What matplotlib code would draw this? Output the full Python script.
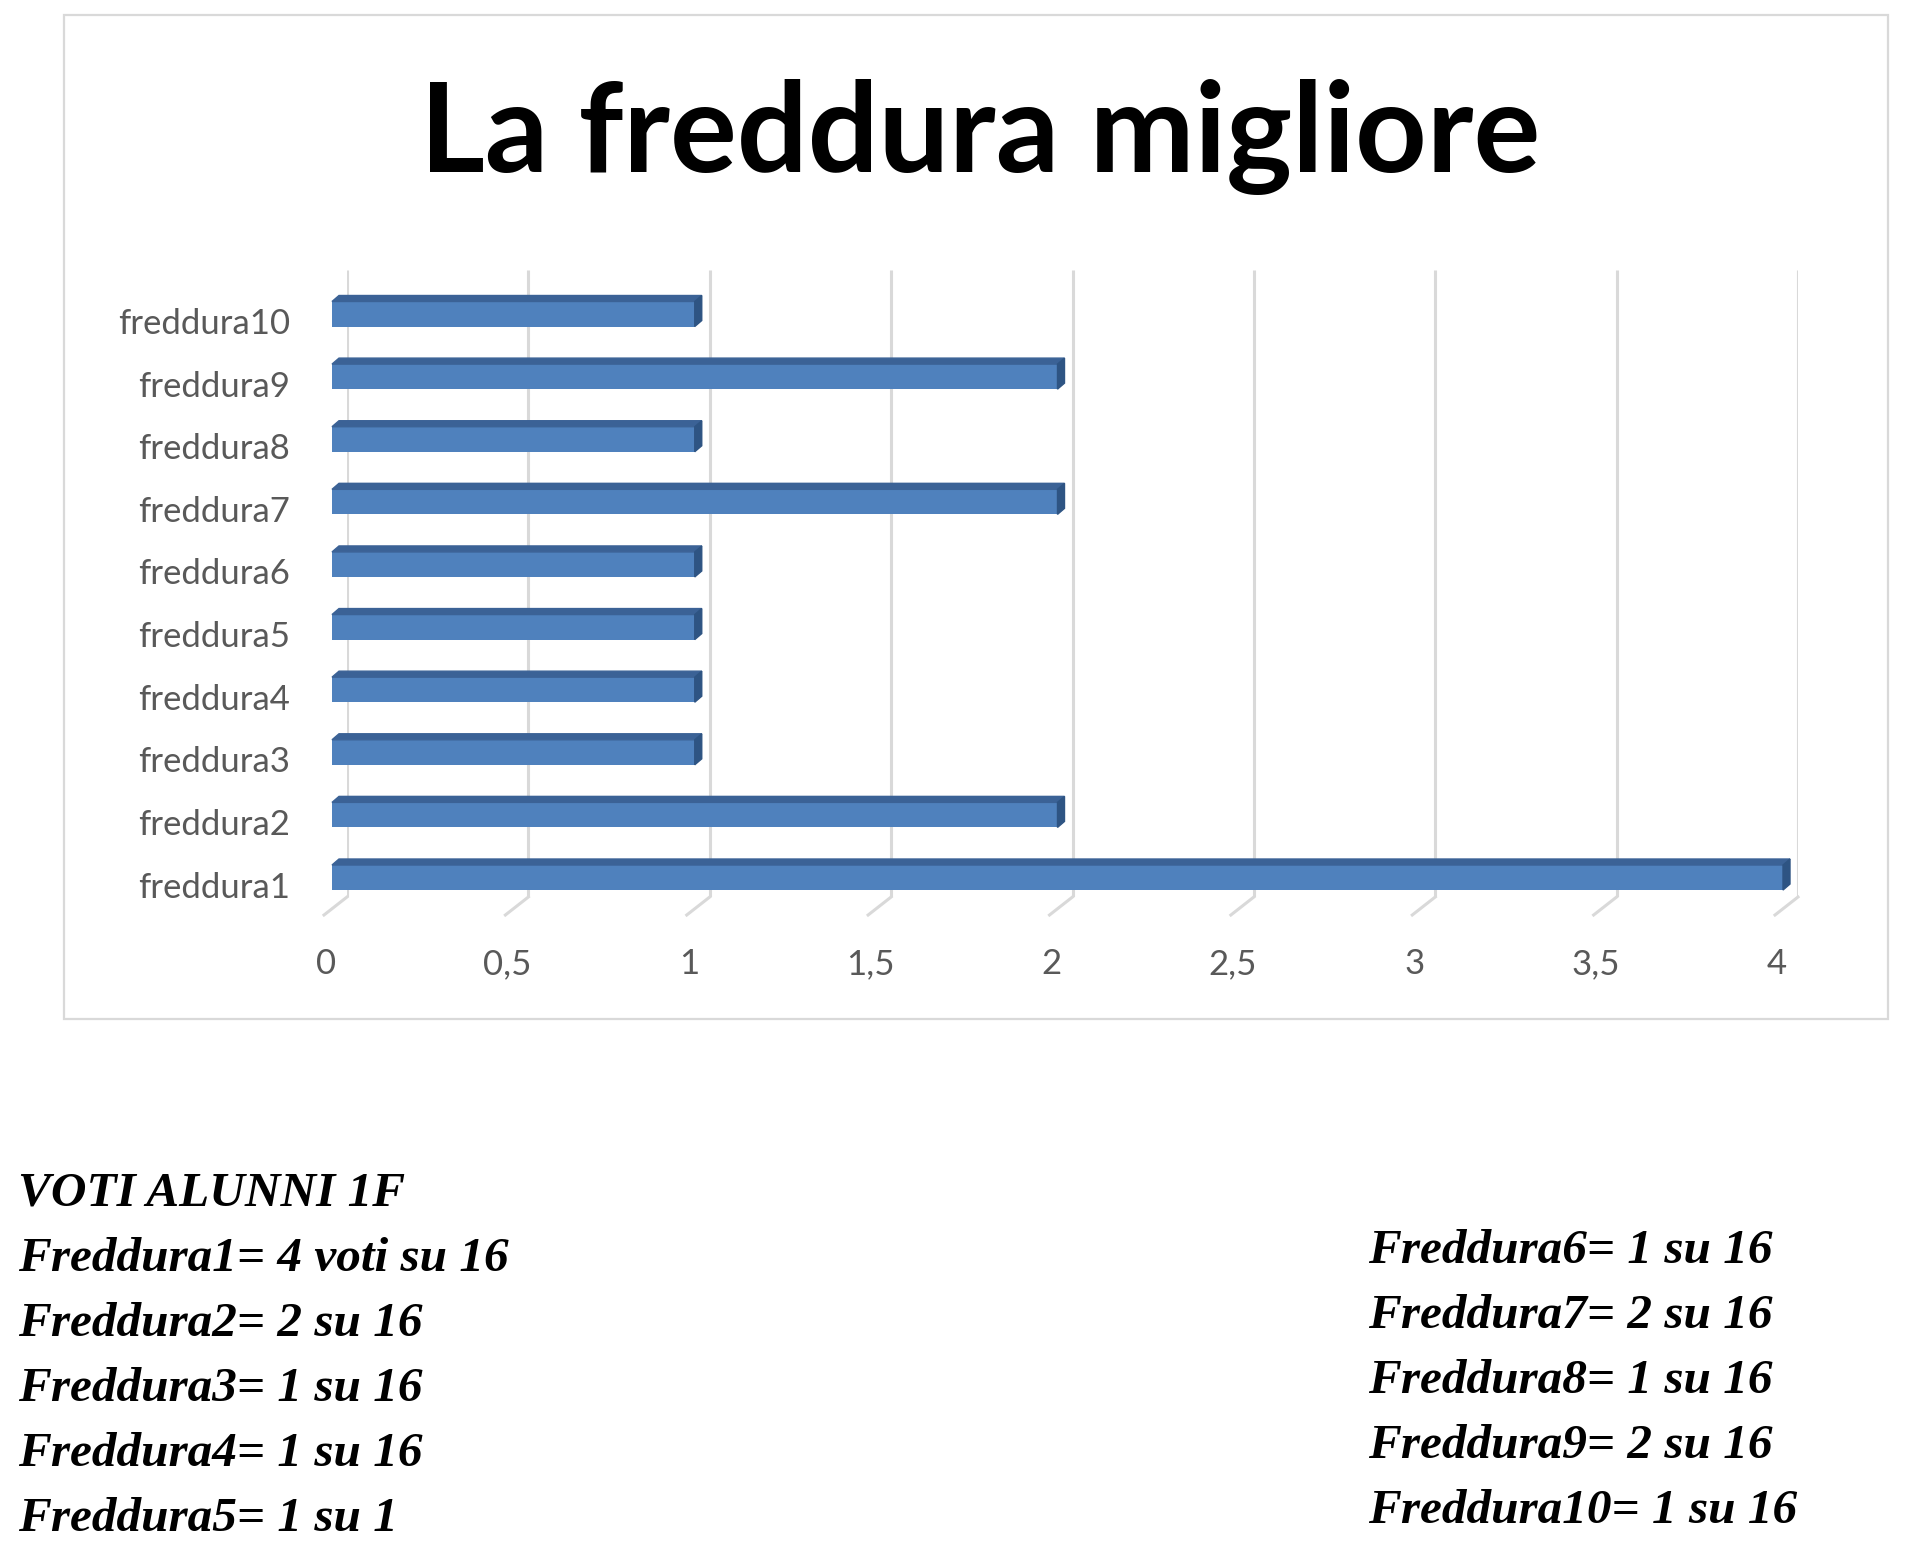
"""Horizontal 3D-style bar chart: La freddura migliore (voti alunni 1F)."""
import matplotlib
matplotlib.use("Agg")
import matplotlib.pyplot as plt
from matplotlib.patches import Polygon, Rectangle
from matplotlib.lines import Line2D
from matplotlib.transforms import ScaledTranslation, IdentityTransform

# data
categories = ["freddura1", "freddura2", "freddura3", "freddura4", "freddura5",
              "freddura6", "freddura7", "freddura8", "freddura9", "freddura10"]
votes = [4, 2, 1, 1, 1, 1, 2, 1, 2, 1]
x_ticks = [0, 0.5, 1, 1.5, 2, 2.5, 3, 3.5, 4]
x_tick_labels = ["0", "0,5", "1", "1,5", "2", "2,5", "3", "3,5", "4"]
title = "La freddura migliore"
notes_left = ["VOTI ALUNNI 1F", "Freddura1= 4 voti su 16", "Freddura2= 2 su 16",
              "Freddura3= 1 su 16", "Freddura4= 1 su 16", "Freddura5= 1 su 1"]
notes_right = ["Freddura6= 1 su 16", "Freddura7= 2 su 16", "Freddura8= 1 su 16",
               "Freddura9= 2 su 16", "Freddura10= 1 su 16"]

W, H, DPI = 1920, 1553, 100
FRONT = "#4F81BD"
TOP = "#3B6296"
SIDE = "#2E5483"
GRID = "#D9D9D9"
TEXT = "#595959"

fig = plt.figure(figsize=(W / DPI, H / DPI), dpi=DPI)

# chart frame
fig.add_artist(Rectangle((64 / W, 1 - 1019 / H), (1888 - 64) / W, (1019 - 15) / H,
                         transform=fig.transFigure, fill=False, ec=GRID, lw=1.6))

# plot area (back wall of the 3D box)
ax_left, ax_right, ax_top, ax_bot = 347, 1798, 270, 897
ax = fig.add_axes([ax_left / W, 1 - ax_bot / H, (ax_right - ax_left) / W, (ax_bot - ax_top) / H])
ax.set_xlim(0, 4)
ax.set_ylim(-0.311, 9.703)
for s in ax.spines.values():
    s.set_visible(False)
ax.patch.set_alpha(0)

ypos = list(range(len(categories)))
bar_h = 0.40
dx_front = -15  # front face shift in px
depth_x, depth_y = 7, 6

# gridlines + diagonal floor ticks
ax.vlines(x_ticks, -0.311, 9.703, color=GRID, lw=2.2, zorder=0)
for xt in x_ticks:
    bx, by = ax.transData.transform((xt, -0.311))
    fig.add_artist(Line2D([bx, bx - 23], [by, by - 18], transform=IdentityTransform(),
                          color=GRID, lw=2.2))

# front faces
shift = ax.transData + ScaledTranslation(dx_front / DPI, 0, fig.dpi_scale_trans)
ax.barh(ypos, votes, height=bar_h, left=0, color=FRONT, transform=shift,
        clip_on=False, zorder=2)

# top and side faces (depth)
for y, v in zip(ypos, votes):
    x0, yt = ax.transData.transform((0, y + bar_h / 2))
    x1, yb = ax.transData.transform((v, y - bar_h / 2))
    x0 += dx_front
    x1 += dx_front
    top = Polygon([(x0, yt), (x1, yt), (x1 + depth_x, yt + depth_y), (x0 + depth_x, yt + depth_y)],
                  closed=True, transform=IdentityTransform(), color=TOP, zorder=3)
    side = Polygon([(x1, yt), (x1 + depth_x, yt + depth_y), (x1 + depth_x, yb + depth_y), (x1, yb)],
                   closed=True, transform=IdentityTransform(), color=SIDE, zorder=3)
    fig.add_artist(top)
    fig.add_artist(side)

# tick labels
ax.set_xticks(x_ticks)
ax.set_xticklabels(x_tick_labels)
ax.set_yticks(ypos)
ax.set_yticklabels(categories)
ax.tick_params(axis="both", length=0, labelsize=25, labelcolor=TEXT)
ax.tick_params(axis="x", pad=37)
ax.tick_params(axis="y", pad=41)
for lbl in ax.get_xticklabels():
    lbl.set_fontfamily("Lato")
    lbl.set_transform(lbl.get_transform() + ScaledTranslation(-21 / DPI, 0, fig.dpi_scale_trans))
for lbl in ax.get_yticklabels():
    lbl.set_fontfamily("Lato")
    lbl.set_transform(lbl.get_transform() + ScaledTranslation(0, -7 / DPI, fig.dpi_scale_trans))

# title
fig.text(980 / W, 1 - 172 / H, title, ha="center", va="baseline",
         fontsize=90, fontweight="bold", family="Lato", color="black")

# votes listed below the chart
serif = dict(family="Liberation Serif", style="italic", fontweight="bold",
             fontsize=35.5, color="black", va="baseline")
for i, line in enumerate(notes_left):
    fig.text(18 / W, 1 - (1206 + 65 * i) / H, line, ha="left", **serif)
for i, line in enumerate(notes_right):
    fig.text(1368 / W, 1 - (1263 + 65 * i) / H, line, ha="left", **serif)

fig.savefig("out.png", dpi=DPI, facecolor="white")
